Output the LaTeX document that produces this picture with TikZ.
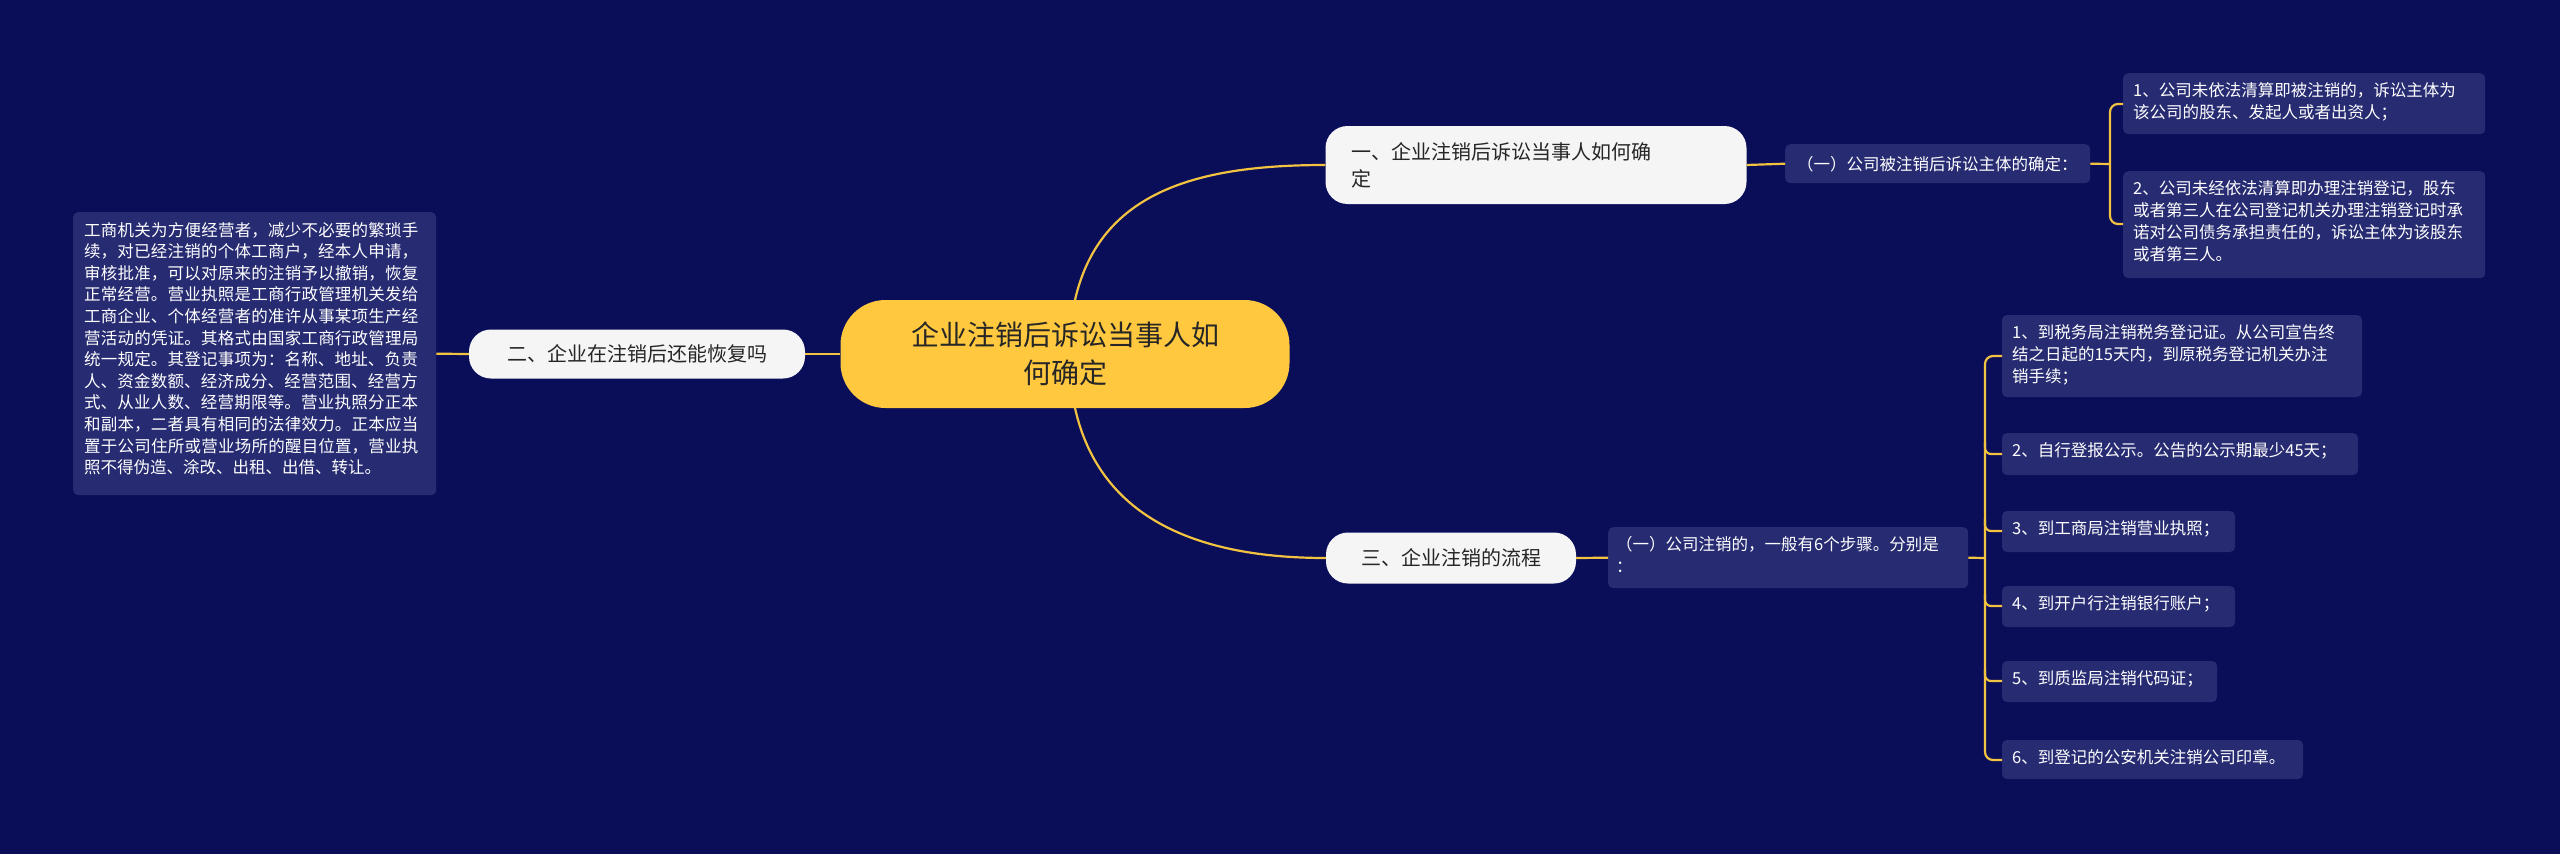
\documentclass[tikz,border=0pt]{standalone}
\usepackage{fontspec}
\setmainfont{Noto Sans CJK SC}
\XeTeXlinebreaklocale "zh"
\XeTeXlinebreakskip=0pt plus 1pt
\begin{document}
\begin{tikzpicture}[x=1pt,y=-1pt,
  root/.style={fill=rootc, rounded corners=45pt, align=center, font=\fontsize{28}{38}\selectfont, text=black!85, minimum height=108pt, minimum width=449pt, inner sep=0pt},
  mid/.style={fill=white!96!black, rounded corners=22pt, align=left, font=\fontsize{20}{27}\selectfont, text=black!85, inner sep=0pt},
  leaf/.style={fill=leafc, rounded corners=5pt, inner sep=0pt, anchor=north west},
  ltxt/.style={anchor=north west, text width=345pt, align=left, font=\fontsize{16.5}{22}\selectfont, text=white, inner sep=0pt},
]
\definecolor{bgc}{HTML}{0A0E59}
\definecolor{leafc}{HTML}{262B72}
\definecolor{lc}{HTML}{F2C341}
\definecolor{rootc}{HTML}{FFC83F}
\tikzset{conn/.style={draw=lc, line width=2.2pt}}
\fill[bgc] (0,0) rectangle (2560,854);
\useasboundingbox (0,0) rectangle (2560,854);

\node[root] (c) at (1065,354) {企业注销后诉讼当事人如\\何确定};

\node[mid, minimum width=421pt, minimum height=78pt, text width=370pt] (a) at (1536,165) {一、企业注销后诉讼当事人如何确\\定};
\node[mid, minimum width=336pt, minimum height=49pt, align=center] (b) at (637,354) {二、企业在注销后还能恢复吗};
\node[mid, minimum width=250pt, minimum height=51pt, align=center] (d) at (1451,558) {三、企业注销的流程};

% left text
\node[leaf, minimum width=363pt, minimum height=283pt] (bt) at (73,212) {};
\node[ltxt, text width=342pt, font=\fontsize{16.5}{21.6}\selectfont] at (84,222) {工商机关为方便经营者，减少不必要的繁琐手续，对已经注销的个体工商户，经本人申请，审核批准，可以对原来的注销予以撤销，恢复正常经营。营业执照是工商行政管理机关发给工商企业、个体经营者的准许从事某项生产经营活动的凭证。其格式由国家工商行政管理局统一规定。其登记事项为：名称、地址、负责人、资金数额、经济成分、经营范围、经营方式、从业人数、经营期限等。营业执照分正本和副本，二者具有相同的法律效力。正本应当置于公司住所或营业场所的醒目位置，营业执照不得伪造、涂改、出租、出借、转让。};

% branch 1
\node[leaf, minimum width=305pt, minimum height=39pt] (a1) at (1785,144) {};
\node[anchor=west, font=\fontsize{16.5}{22}\selectfont, text=white, inner sep=0pt] at (1797,164) {（一）公司被注销后诉讼主体的确定：};
\node[leaf, minimum width=362pt, minimum height=61pt] (i1) at (2123,73) {};
\node[ltxt] at (2133,82) {1、公司未依法清算即被注销的，诉讼主体为\\该公司的股东、发起人或者出资人；};
\node[leaf, minimum width=362pt, minimum height=107pt] (i2) at (2123,171) {};
\node[ltxt] at (2133,180) {2、公司未经依法清算即办理注销登记，股东\\或者第三人在公司登记机关办理注销登记时承\\诺对公司债务承担责任的，诉讼主体为该股东\\或者第三人。};

% branch 3
\node[leaf, minimum width=360pt, minimum height=61pt] (d1) at (1608,527) {};
\node[ltxt] at (1616,536) {（一）公司注销的，一般有6个步骤。分别是\\：};
\foreach \n/\t/\b/\r/\txt in {s1/315/397/2362/{1、到税务局注销税务登记证。从公司宣告终\\结之日起的15天内，到原税务登记机关办注\\销手续；},
  s2/433/475/2358/{2、自行登报公示。公告的公示期最少45天；},
  s3/511/552/2235/{3、到工商局注销营业执照；},
  s4/586/627/2235/{4、到开户行注销银行账户；},
  s5/661/702/2217/{5、到质监局注销代码证；},
  s6/740/779/2303/{6、到登记的公安机关注销公司印章。}}{
  \fill[leafc, rounded corners=5pt] (2002,\t) rectangle (\r,\b);
  \node[anchor=north west, align=left, font=\fontsize{16.5}{22}\selectfont, text=white, inner sep=0pt] (\n) at (2012,\t+9) {\txt};
}

% connectors
\draw[conn] (1075,300) .. controls (1100,190) and (1200,165) .. (a.west);
\draw[conn] (1075,408) .. controls (1100,520) and (1200,558) .. (d.west);
\draw[conn] (c.west) -- (b.east);
\draw[conn] (b.west) -- (bt.east);
\draw[conn] (a.east) -- (a1.west);
\draw[conn] (a1.east) -- (2110,164);
\draw[conn, rounded corners=8pt] (2123,104) -| (2110,224) -- (2123,224);
\draw[conn] (d1.east) -- (1985,558);
\draw[conn] (d.east) -- (d1.west);
\draw[conn, rounded corners=8pt] (2002,356) -| (1985,760) -- (2002,760);
\foreach \y in {454,531,606,681}{
  \draw[conn, rounded corners=6pt] (1985,\y-12) |- (2002,\y);
}
\end{tikzpicture}
\end{document}
